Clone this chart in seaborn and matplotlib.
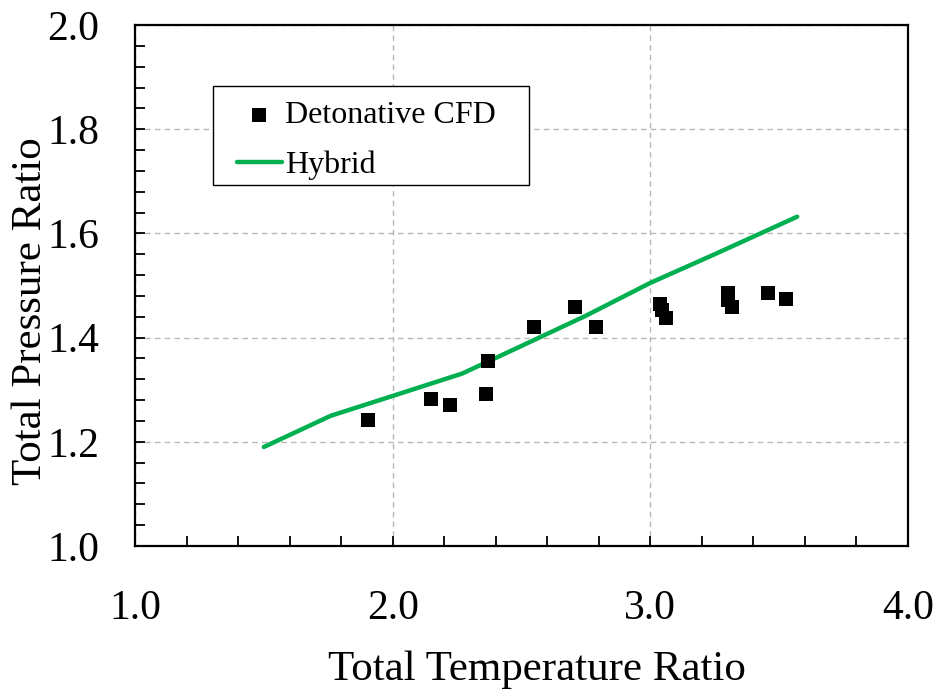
import matplotlib
matplotlib.use('Agg')
import matplotlib.pyplot as plt
import seaborn as sns
from matplotlib.ticker import MultipleLocator
from matplotlib.patches import Rectangle

# Detonative CFD data
cfd_temp = [1.903, 2.149, 2.221, 2.362, 2.369, 2.547, 2.706, 2.791,
            3.037, 3.046, 3.061, 3.300, 3.300, 3.318, 3.458, 3.526]
cfd_press = [1.241, 1.283, 1.271, 1.292, 1.356, 1.420, 1.459, 1.420,
             1.464, 1.453, 1.437, 1.486, 1.472, 1.459, 1.485, 1.474]

# Hybrid model line
hyb_temp = [1.50, 1.76, 2.00, 2.27, 2.50, 2.75, 3.00, 3.25, 3.57]
hyb_press = [1.19, 1.25, 1.288, 1.331, 1.384, 1.442, 1.505, 1.560, 1.632]

x_ticks = [1.0, 2.0, 3.0, 4.0]
y_ticks = [1.0, 1.2, 1.4, 1.6, 1.8, 2.0]

sns.set_theme(style='white')
plt.rcParams['font.family'] = ['Liberation Serif', 'DejaVu Serif']
plt.rcParams['text.color'] = 'black'

fig = plt.figure(figsize=(9.35, 6.9), dpi=100)
ax = fig.add_axes([0.1444, 0.2087, 0.8267, 0.7551])

sns.scatterplot(x=cfd_temp, y=cfd_press, marker='s', s=100, color='black',
                edgecolor='black', linewidth=0, label='Detonative CFD',
                ax=ax, zorder=4)
sns.lineplot(x=hyb_temp, y=hyb_press, color='#00b050', linewidth=3.2,
             label='Hybrid', ax=ax, estimator=None, zorder=3)

ax.set_xlim(1.0, 4.0)
ax.set_ylim(1.0, 2.0)
ax.set_xticks(x_ticks)
ax.set_yticks(y_ticks)
ax.set_xticklabels([f'{v:.1f}' for v in x_ticks])
ax.set_yticklabels([f'{v:.1f}' for v in y_ticks])
ax.xaxis.set_minor_locator(MultipleLocator(0.2))
ax.yaxis.set_minor_locator(MultipleLocator(0.04))

ax.tick_params(axis='both', which='both', direction='in', length=7,
               width=1.3, color='black', top=False, right=False,
               left=True, bottom=True, labelsize=30, labelcolor='black')
ax.tick_params(axis='x', which='major', pad=31)
ax.tick_params(axis='y', which='major', pad=26)

ax.grid(True, which='major', linestyle=(0, (4, 3)), color='#b8b8b8',
        linewidth=1.0)
ax.set_axisbelow(True)

for sp in ax.spines.values():
    sp.set_visible(True)
    sp.set_color('black')
    sp.set_linewidth(1.6)

ax.set_xlabel('Total Temperature Ratio', fontsize=31, color='black')
ax.set_ylabel('Total Pressure Ratio', fontsize=31, color='black')
ax.xaxis.set_label_coords(0.52, -0.200)
ax.yaxis.set_label_coords(-0.11, 0.451)

# legend frame drawn separately so the inner spacing matches
ax.add_patch(Rectangle((0.101, 0.693), 0.409, 0.190, transform=ax.transAxes,
                       facecolor='white', edgecolor='black', linewidth=1.0,
                       zorder=5))
leg = ax.legend(loc='upper left', bbox_to_anchor=(0.132, 0.854),
                borderaxespad=0, fontsize=23, frameon=False,
                handlelength=1.4, handletextpad=0.1, labelspacing=0.62,
                borderpad=0, markerscale=1.0, labelcolor='black')
leg.set_zorder(6)

fig.savefig('out.png', dpi=100)
